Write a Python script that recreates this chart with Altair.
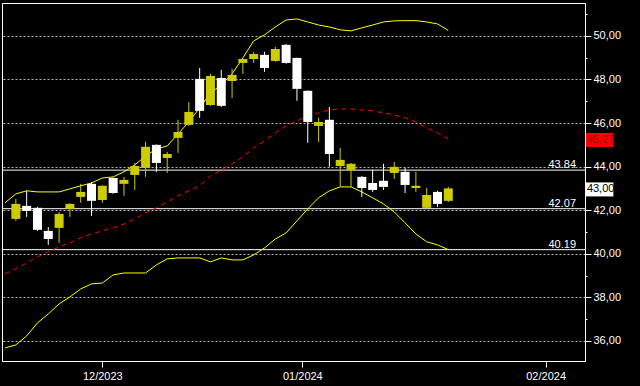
import altair as alt
import pandas as pd

# ---- candle data (trading-day index) ----
opens = [41.60, 42.20, 42.11, 41.05, 41.19, 42.06, 42.61, 43.21, 42.47, 43.48, 43.21,
         43.62, 43.94, 45.00, 44.40, 45.32, 45.92, 48.03, 46.83, 48.07, 47.93, 48.76,
         48.94, 49.13, 48.85, 49.59, 48.99, 47.48, 45.87, 46.15, 44.03, 43.85, 43.53,
         43.25, 43.35, 43.71, 43.76, 43.02, 42.11, 42.84, 42.43]
closes = [42.29, 41.97, 41.10, 40.68, 41.83, 42.29, 42.84, 42.43, 43.12, 42.79, 43.39,
          44.03, 44.91, 44.17, 44.58, 45.59, 46.51, 46.56, 48.16, 46.79, 48.21, 48.94,
          49.17, 48.53, 49.40, 48.76, 47.57, 46.05, 46.05, 44.58, 44.31, 44.13, 43.02,
          42.93, 43.07, 43.99, 43.16, 43.12, 42.70, 42.29, 43.00]
highs = [42.52, 42.89, 42.15, 41.23, 41.92, 42.32, 43.21, 43.30, 43.14, 43.50, 43.53,
         44.17, 45.14, 45.02, 44.68, 46.15, 46.97, 48.53, 48.26, 48.44, 48.49, 48.96,
         49.27, 49.27, 49.50, 49.63, 49.00, 47.50, 46.24, 46.74, 44.86, 44.17, 43.57,
         43.85, 44.13, 44.22, 43.94, 43.76, 43.02, 42.89, 43.07]
lows = [41.51, 41.69, 41.05, 40.41, 40.50, 41.69, 42.34, 41.74, 42.34, 42.75, 42.66,
        42.93, 43.53, 43.76, 43.71, 44.63, 45.87, 46.24, 46.79, 46.74, 47.15, 48.26,
        48.76, 48.35, 48.81, 48.72, 47.02, 45.09, 45.14, 43.99, 43.07, 43.07, 42.61,
        42.84, 42.93, 43.44, 42.79, 42.84, 42.06, 42.15, 42.38]

# ---- indicator data (index -1 .. 40) ----
upper = [42.34, 42.75, 42.89, 42.84, 42.84, 42.84, 42.98, 43.12, 43.25, 43.48, 43.53,
         43.76, 44.08, 44.49, 44.81, 44.95, 45.50, 46.05, 46.70, 47.38, 47.75, 48.26,
         48.99, 49.77, 50.05, 50.41, 50.73, 50.78, 50.64, 50.50, 50.41, 50.28, 50.23,
         50.37, 50.50, 50.64, 50.69, 50.70, 50.70, 50.64, 50.55, 50.25]
lower = [35.68, 35.82, 36.23, 36.83, 37.24, 37.70, 38.02, 38.39, 38.62, 38.66, 39.03,
         39.12, 39.12, 39.12, 39.49, 39.77, 39.81, 39.81, 39.81, 39.63, 39.81, 39.72,
         39.72, 39.95, 40.27, 40.68, 40.96, 41.51, 42.06, 42.57, 42.89, 43.07, 43.07,
         42.84, 42.57, 42.29, 41.92, 41.42, 40.91, 40.55, 40.41, 40.19]
mavg = [39.08, 39.31, 39.58, 39.86, 40.09, 40.32, 40.50, 40.73, 40.91, 41.05, 41.19,
        41.37, 41.60, 41.88, 42.11, 42.38, 42.66, 42.89, 43.12, 43.57, 43.85, 44.13,
        44.45, 44.86, 45.18, 45.55, 45.87, 46.10, 46.33, 46.47, 46.60, 46.65, 46.65,
        46.60, 46.56, 46.47, 46.37, 46.24, 46.05, 45.78, 45.55, 45.27]

levels = [43.84, 42.07, 40.19]
tick_pos = [8, 26.5, 49]
tick_labels = ["12/2023", "01/2024", "02/2024"]

X_DOM = [-0.818, 52.18]
Y_DOM = [35.08, 51.51]
PX_X = 583 / (X_DOM[1] - X_DOM[0])   # pixels per index step
PX_Y = 358 / (Y_DOM[1] - Y_DOM[0])   # pixels per price unit
YELLOW_BODY = "#CCCC00"
FONT = "Liberation Sans"

candles = pd.DataFrame({"i": list(range(len(opens))), "open": opens, "close": closes,
                        "high": highs, "low": lows})
lines = pd.DataFrame({"i": list(range(-1, len(upper) - 1)), "upper": upper,
                      "lower": lower, "ma": mavg})
lev = pd.DataFrame({"v": levels, "lab": [f"{v:.2f}" for v in levels]})


def tag_df(v):
    return pd.DataFrame({
        "v": [v], "lab": [f"{v:.2f}".replace(".", ",")],
        "x0": [X_DOM[1] + 6 / PX_X], "x1": [X_DOM[1] + 34 / PX_X], "xt": [X_DOM[1] + 7 / PX_X],
        "y0": [v - 8 / PX_Y], "y1": [v + 6 / PX_Y], "yt": [v - 1 / PX_Y],
    })


label_expr = " : ".join(
    [f"datum.value == {p} ? '{l}'" for p, l in zip(tick_pos, tick_labels)] + ["''"])

x_axis = alt.Axis(values=tick_pos, labelExpr=label_expr, grid=False, domainColor="white",
                  tickColor="white", tickSize=6, labelColor="white", labelFont=FONT,
                  labelFontSize=11, labelPadding=3, title=None, labelFlush=False)
y_vals = list(range(36, 52))
y_axis = alt.Axis(orient="right", values=y_vals,
                  labelExpr="datum.value % 2 == 0 ? replace(format(datum.value, '.2f'), '.', ',') : ''",
                  grid=True, gridColor="#BBBBBB", gridDash=[2, 2],
                  gridOpacity={"condition": {"test": "datum.value % 2 == 0", "value": 1}, "value": 0},
                  tickSize={"condition": {"test": "datum.value % 2 == 0", "value": 6}, "value": 2},
                  domainColor="white", tickColor="white", labelColor="white", labelFont=FONT,
                  labelFontSize=11, labelPadding=2, title=None)

xs = alt.Scale(domain=X_DOM, nice=False, zero=False)
ys = alt.Scale(domain=Y_DOM, nice=False, zero=False)

X = lambda f: alt.X(f, scale=xs, axis=x_axis)
Y = lambda f: alt.Y(f, scale=ys, axis=y_axis)

color = alt.Color("dir:N", scale=alt.Scale(domain=["up", "down"], range=[YELLOW_BODY, "#FFFFFF"]),
                  legend=None)

base_c = alt.Chart(candles).transform_calculate(dir="datum.close >= datum.open ? 'up' : 'down'")

wicks = base_c.mark_rule(strokeWidth=1).encode(x=X("i:Q"), y=Y("low:Q"), y2="high:Q", color=color)
bodies = base_c.mark_bar(width=9).encode(x=X("i:Q"), y=Y("open:Q"), y2="close:Q", color=color)

upper_l = alt.Chart(lines).mark_line(color="#FFFF00", strokeWidth=1, clip=True).encode(
    x=X("i:Q"), y=Y("upper:Q"))
lower_l = alt.Chart(lines).mark_line(color="#FFFF00", strokeWidth=1, clip=True).encode(
    x=X("i:Q"), y=Y("lower:Q"))
ma_l = alt.Chart(lines).mark_line(color="#FF0000", strokeWidth=1, strokeDash=[5, 4], clip=True).encode(
    x=X("i:Q"), y=Y("ma:Q"))

lev_rules = alt.Chart(lev).mark_rule(color="white", strokeWidth=1).encode(y=Y("v:Q"))
lev_text = alt.Chart(lev).mark_text(align="right", baseline="bottom", color="white", font=FONT,
                                    fontSize=11, dx=-4, dy=0).encode(
    x=alt.datum(X_DOM[1], scale=xs), y=Y("v:Q"), text="lab:N")


def price_tag(v, fill, txt_color):
    df = tag_df(v)
    box = alt.Chart(df).mark_rect(color=fill, clip=False).encode(
        x=X("x0:Q"), x2="x1:Q", y=Y("y0:Q"), y2="y1:Q")
    txt = alt.Chart(df).mark_text(align="left", baseline="middle", color=txt_color, font=FONT,
                                  fontSize=11, clip=False).encode(
        x=X("xt:Q"), y=Y("yt:Q"), text="lab:N")
    return box + txt


chart = alt.layer(
    lev_rules, lower_l, upper_l, ma_l, wicks, bodies, lev_text,
    price_tag(closes[-1], "white", "black"), price_tag(mavg[-1], "#FF0000", "#990000")
).properties(
    width=583, height=358,
    background="#000000",
    padding={"left": 2, "top": 3, "right": 55, "bottom": 25},
    autosize=alt.AutoSizeParams(type="none"),
).configure_view(stroke="white", strokeWidth=1, fill="#000000")

chart.save("out.html", embed_options={"renderer": "svg", "actions": False})
